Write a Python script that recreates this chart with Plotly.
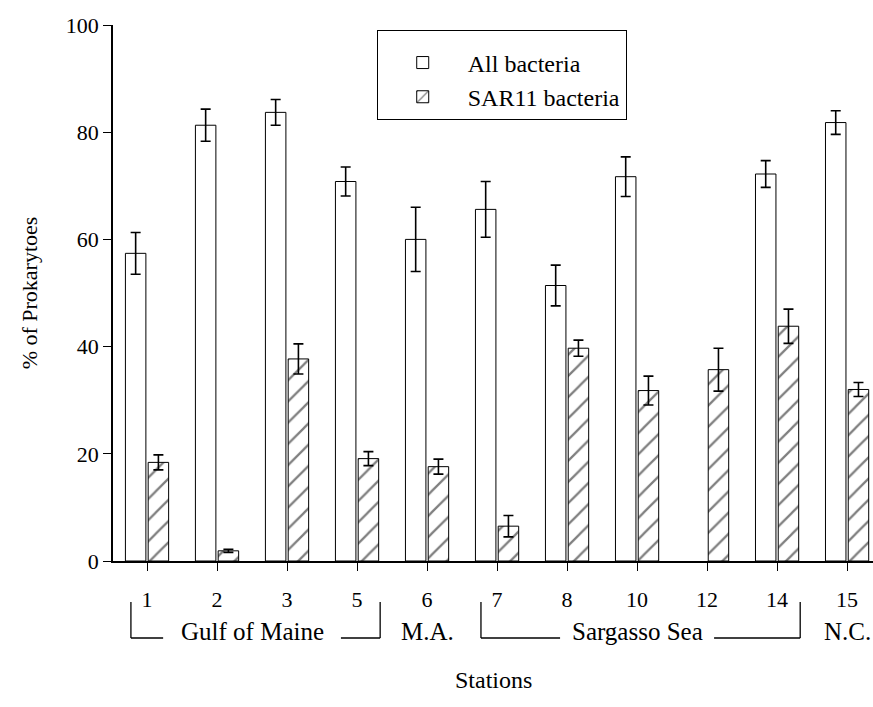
import plotly.graph_objects as go

stations = ["1", "2", "3", "5", "6", "7", "8", "10", "12", "14", "15"]
all_bacteria = [57.4, 81.3, 83.7, 70.8, 60.0, 65.6, 51.4, 71.7, None, 72.2, 81.8]
all_bacteria_err = [3.9, 3.0, 2.4, 2.7, 6.0, 5.2, 3.8, 3.7, None, 2.5, 2.2]
sar11 = [18.4, 1.9, 37.7, 19.1, 17.6, 6.5, 39.7, 31.8, 35.7, 43.8, 32.0]
sar11_err = [1.4, 0.3, 2.8, 1.3, 1.4, 2.0, 1.5, 2.7, 4.0, 3.2, 1.3]

# region label, first station index, last station index, draw bracket
regions = [
    ("Gulf of Maine", 0, 3, True),
    ("M.A.", 4, 4, False),
    ("Sargasso Sea", 5, 9, True),
    ("N.C.", 10, 10, False),
]

FONT = "Liberation Serif"

fig = go.Figure()
fig.add_trace(go.Bar(
    name="All bacteria", x=stations, y=all_bacteria, legendgroup="a",
    marker=dict(color="white", line=dict(color="black", width=1)),
    error_y=dict(type="data", array=all_bacteria_err, color="black", thickness=1.6, width=5),
))
fig.add_trace(go.Bar(
    name="SAR11 bacteria", x=stations, y=sar11, legendgroup="b",
    marker=dict(color="white", line=dict(color="black", width=1),
                pattern=dict(shape="/", fgcolor="black", bgcolor="white", size=15, solidity=0.15)),
    error_y=dict(type="data", array=sar11_err, color="black", thickness=1.6, width=5),
))

shapes = []
annotations = []
y_text = -0.131
y_low = -0.1437
y_top = -0.0765
for label, i0, i1, bracket in regions:
    center = (i0 + i1) / 2
    annotations.append(dict(x=center, y=y_text, xref="x", yref="paper", text=label,
                            showarrow=False, font=dict(size=25, family=FONT, color="black"),
                            xanchor="center", yanchor="middle"))
    if bracket:
        left = i0 - 0.23
        right = i1 + 0.33
        gap = 1.27 if (i1 - i0) == 3 else 1.1
        line = dict(color="black", width=1.3)
        shapes += [
            dict(type="line", xref="x", yref="paper", x0=left, x1=left, y0=y_top, y1=y_low, line=line),
            dict(type="line", xref="x", yref="paper", x0=left, x1=center - gap, y0=y_low, y1=y_low, line=line),
            dict(type="line", xref="x", yref="paper", x0=center + gap, x1=right, y0=y_low, y1=y_low, line=line),
            dict(type="line", xref="x", yref="paper", x0=right, x1=right, y0=y_top, y1=y_low, line=line),
        ]

annotations.append(dict(x=0.5, y=-0.222, xref="paper", yref="paper", text="Stations",
                        showarrow=False, font=dict(size=24, family=FONT, color="black"),
                        xanchor="center", yanchor="middle"))

fig.update_layout(
    width=873, height=707,
    margin=dict(l=113, r=0, t=25, b=146, autoexpand=False),
    paper_bgcolor="white", plot_bgcolor="white",
    barmode="group", bargap=0.35, bargroupgap=0.1,
    font=dict(family=FONT, size=22, color="black"),
    showlegend=True,
    legend=dict(x=0.347, y=0.99, xanchor="left", yanchor="top",
                bordercolor="black", borderwidth=1, bgcolor="white",
                font=dict(size=24, family=FONT), itemwidth=80,
                title=dict(text=" ", font=dict(size=7)),
                traceorder="grouped", tracegroupgap=0),
    shapes=shapes, annotations=annotations,
)
fig.update_xaxes(type="category", range=[-0.486, 10.37], showline=True, linecolor="black",
                 linewidth=1.6, ticks="outside", ticklen=8, tickwidth=1.3, tickcolor="black",
                 showgrid=False, zeroline=False, ticklabelstandoff=10, automargin=False,
                 tickfont=dict(size=22, family=FONT))
fig.update_yaxes(range=[0, 100], dtick=20, showline=True, linecolor="black", linewidth=1.6,
                 ticks="outside", ticklen=8, tickwidth=1.3, tickcolor="black",
                 showgrid=False, zeroline=False, automargin=False,
                 title=dict(text="% of Prokarytoes", font=dict(size=22, family=FONT), standoff=22),
                 tickfont=dict(size=22, family=FONT))

fig.write_html(
    "out.html",
    config={"displayModeBar": False},
    post_script="document.body.style.margin='0';document.body.style.overflow='hidden';",
)
